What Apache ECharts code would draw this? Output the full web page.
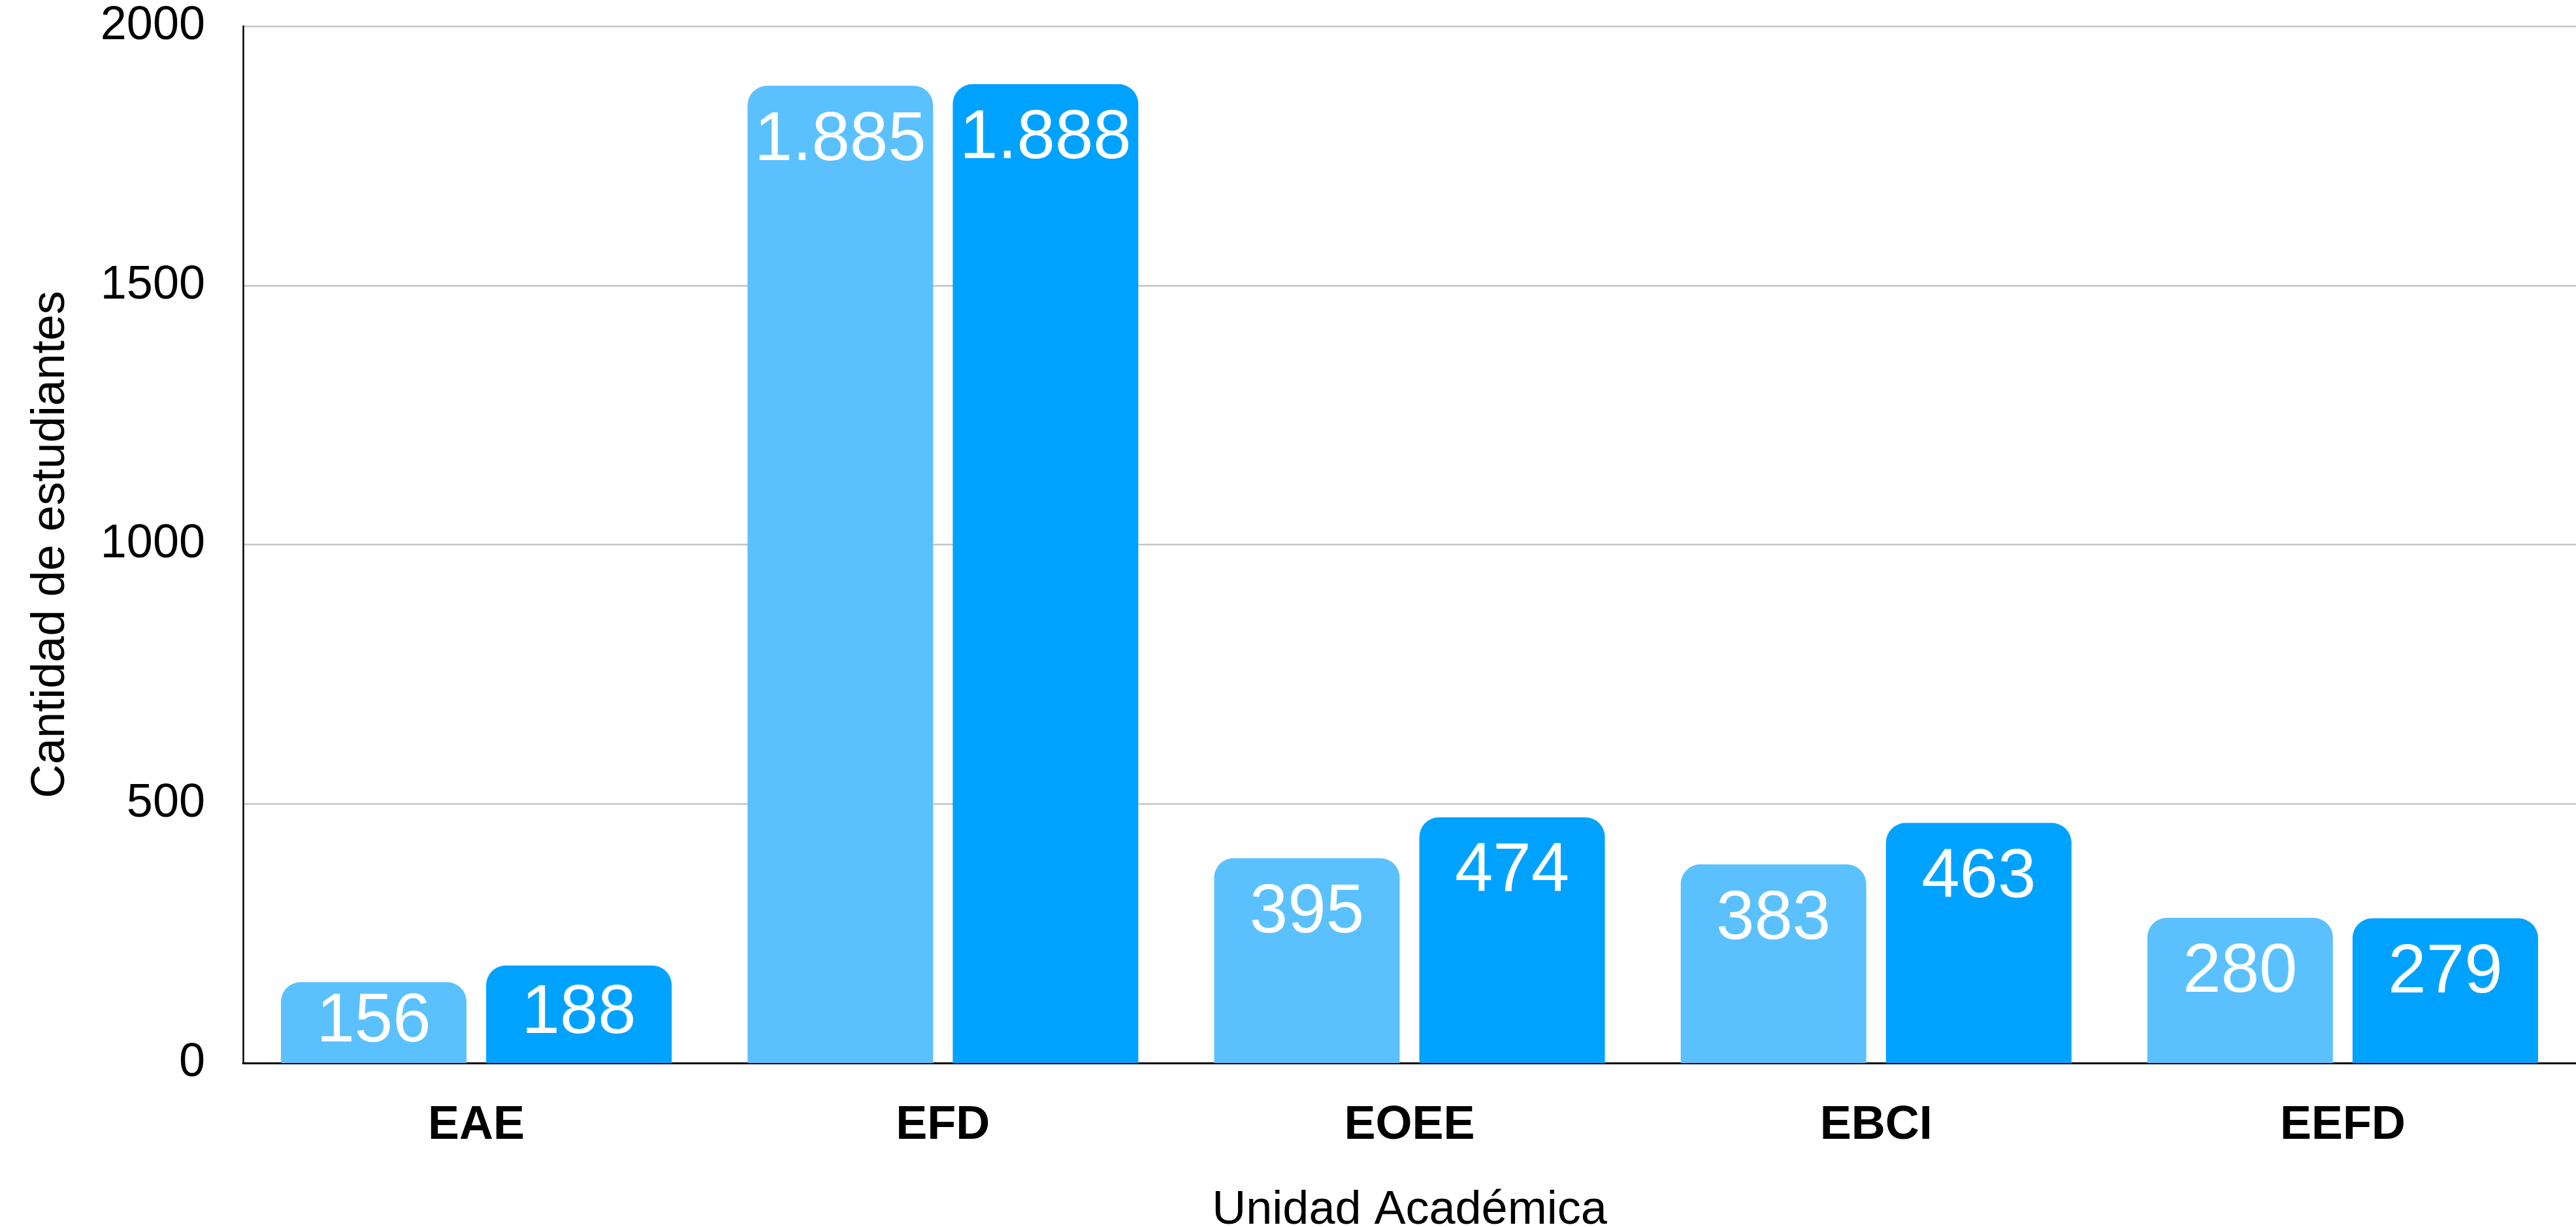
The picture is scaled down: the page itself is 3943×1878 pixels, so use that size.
<!DOCTYPE html>
<html>
<head>
<meta charset="utf-8">
<script src="https://cdn.jsdelivr.net/npm/echarts@6/dist/echarts.min.js"></script>
<style>
html,body{margin:0;padding:0;background:#fff;}
#chart{width:3943px;height:1878px;}
</style>
</head>
<body>
<div id="chart"></div>
<script>
const categories = ['EAE', 'EFD', 'EOEE', 'EBCI', 'EEFD'];
const seriesNames = ['Serie 1', 'Serie 2'];
const seriesA = [156, 1885, 395, 383, 280];
const seriesB = [188, 1888, 474, 463, 279];
const yTicks = [0, 500, 1000, 1500, 2000];
const axisNames = { x: 'Unidad Académica', y: 'Cantidad de estudiantes' };

const FONT = '"Liberation Sans", "Helvetica Neue", Helvetica, Arial, sans-serif';
const colors = ['#5AC1FE', '#00A2FF'];

function fmt(v) {
  return String(v).replace(/\B(?=(\d{3})+(?!\d))/g, '.');
}

function buildData(values) {
  return values.map(v => ({
    value: v,
    label: v < 200 ? { position: 'inside', distance: 0 } : {}
  }));
}

const chart = echarts.init(document.getElementById('chart'), null, { renderer: 'canvas' });

const labelCfg = {
  show: true,
  position: 'insideTop',
  distance: 32,
  color: '#ffffff',
  fontFamily: FONT,
  fontSize: 105,
  formatter: p => fmt(p.value)
};

chart.setOption({
  animation: false,
  backgroundColor: '#ffffff',
  grid: { left: 372, right: 0, top: 40, bottom: 251, containLabel: false, outerBoundsMode: 'none' },
  xAxis: {
    type: 'category',
    data: categories,
    name: axisNames.x,
    nameLocation: 'middle',
    nameGap: 190,
    nameTextStyle: { fontFamily: FONT, fontSize: 72, color: '#000' },
    axisLine: { show: true, lineStyle: { color: '#000', width: 3 } },
    axisTick: { show: false },
    axisLabel: { fontFamily: FONT, fontSize: 72, fontWeight: 'bold', color: '#000', margin: 60 },
    splitLine: { show: false }
  },
  yAxis: {
    type: 'value',
    min: yTicks[0],
    max: yTicks[yTicks.length - 1],
    interval: yTicks[1] - yTicks[0],
    name: axisNames.y,
    nameLocation: 'middle',
    nameGap: 258,
    nameRotate: 90,
    nameTextStyle: { fontFamily: FONT, fontSize: 72, color: '#000' },
    axisLine: { show: true, lineStyle: { color: '#000', width: 2.5 } },
    axisTick: { show: false },
    axisLabel: { fontFamily: FONT, fontSize: 72, color: '#000', margin: 58, formatter: v => String(v) },
    splitLine: { show: true, lineStyle: { color: '#c4c4c4', width: 2.5 } }
  },
  series: [
    {
      name: seriesNames[0],
      type: 'bar',
      data: buildData(seriesA),
      barWidth: 284,
      barGap: '10.6%',
      itemStyle: { color: colors[0], borderRadius: [30, 30, 0, 0] },
      label: labelCfg
    },
    {
      name: seriesNames[1],
      type: 'bar',
      data: buildData(seriesB),
      barWidth: 284,
      barGap: '10.6%',
      itemStyle: { color: colors[1], borderRadius: [30, 30, 0, 0] },
      label: labelCfg
    }
  ]
});
</script>
</body>
</html>
